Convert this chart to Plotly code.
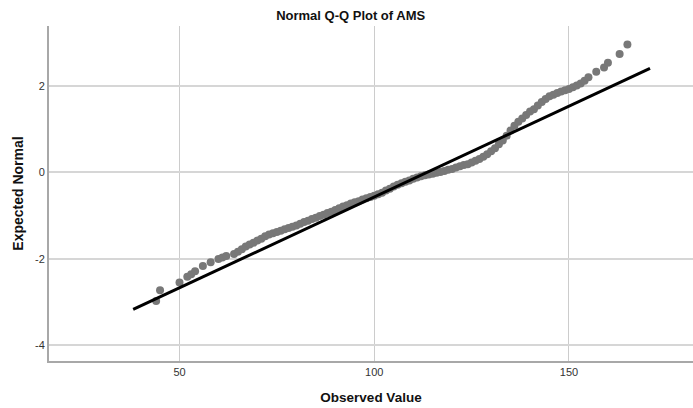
import plotly.graph_objects as go

# Observed AMS values (sorted distinct scores) and their expected normal quantiles
observed = [44, 45, 50, 52, 53, 54, 56, 58, 60, 61, 62, 64, 65, 66, 67, 68, 69, 70,
            71, 72, 73, 74, 75, 76, 77, 78, 79, 80, 81, 82, 83, 84, 85, 86, 87, 88,
            89, 90, 91, 92, 93, 94, 95, 96, 97, 98, 99, 100, 101, 102, 103, 104, 105,
            106, 107, 108, 109, 110, 111, 112, 113, 114, 115, 116, 117, 118, 119, 120,
            121, 122, 123, 124, 125, 126, 127, 128, 129, 130, 131, 132, 133, 134, 135,
            136, 137, 138, 139, 140, 141, 142, 143, 144, 145, 146, 147, 148, 149, 150,
            151, 152, 153, 154, 155, 157, 159, 160, 163, 165]
expected = [-2.98, -2.73, -2.55, -2.42, -2.36, -2.29, -2.17, -2.08, -2.01, -1.97, -1.94,
            -1.89, -1.84, -1.78, -1.72, -1.67, -1.63, -1.58, -1.54, -1.48, -1.44, -1.41,
            -1.38, -1.35, -1.32, -1.29, -1.26, -1.23, -1.19, -1.15, -1.12, -1.08, -1.05,
            -1.01, -0.98, -0.94, -0.91, -0.87, -0.83, -0.79, -0.76, -0.72, -0.69, -0.67,
            -0.63, -0.60, -0.57, -0.54, -0.51, -0.47, -0.42, -0.38, -0.33, -0.29, -0.25,
            -0.22, -0.19, -0.15, -0.12, -0.09, -0.07, -0.05, -0.03, -0.01, 0.01, 0.03,
            0.06, 0.08, 0.11, 0.14, 0.17, 0.19, 0.23, 0.27, 0.31, 0.36, 0.42, 0.49, 0.56,
            0.65, 0.74, 0.85, 0.97, 1.08, 1.17, 1.25, 1.33, 1.41, 1.46, 1.55, 1.63, 1.70,
            1.76, 1.80, 1.84, 1.87, 1.90, 1.93, 1.97, 2.01, 2.06, 2.12, 2.20, 2.33, 2.43,
            2.54, 2.74, 2.96]

# Reference normal line endpoints
ref_x = [38.1, 170.8]
ref_y = [-3.175, 2.41]

x_ticks = [50, 100, 150]
y_ticks = [-4, -2, 0, 2]

FONT = "Liberation Sans, Arial, sans-serif"

fig = go.Figure()
fig.add_trace(go.Scatter(
    x=observed, y=expected, mode="markers",
    marker=dict(color="#787878", size=8, line=dict(width=0)),
    hoverinfo="x+y", showlegend=False,
))
fig.add_trace(go.Scatter(
    x=ref_x, y=ref_y, mode="lines",
    line=dict(color="#000000", width=3),
    hoverinfo="skip", showlegend=False,
))

fig.update_layout(
    width=693, height=408,
    margin=dict(l=49, r=0, t=26, b=47),
    paper_bgcolor="white", plot_bgcolor="white",
    font=dict(family=FONT, color="#333333", size=11),
    title=dict(text="<b>Normal Q-Q Plot of AMS</b>", x=0.506, xref="container",
               xanchor="center", y=0.963, yref="container", yanchor="middle",
               font=dict(family=FONT, size=13, color="#111111")),
    xaxis=dict(
        range=[16.49, 181.84], tickvals=x_ticks, ticktext=[str(v) for v in x_ticks],
        showgrid=True, gridcolor="#cccccc", gridwidth=1,
        showline=True, linecolor="#a8a8a8", linewidth=2,
        zeroline=False, ticks="", ticklen=0,
        tickfont=dict(size=11, color="#333333"),
        title=dict(text="<b>Observed Value</b>", standoff=15,
                   font=dict(family=FONT, size=13.5, color="#111111")),
    ),
    yaxis=dict(
        range=[-4.37, 3.39], tickvals=y_ticks, ticktext=[str(v) for v in y_ticks],
        showgrid=True, gridcolor="#d6d6d6", gridwidth=2,
        showline=True, linecolor="#a8a8a8", linewidth=2,
        zeroline=False, ticks="", ticklen=0,
        tickfont=dict(size=11, color="#333333"),
        title=dict(text="<b>Expected Normal</b>", standoff=8,
                   font=dict(family=FONT, size=14, color="#111111")),
    ),
)

fig.write_html("out.html")
